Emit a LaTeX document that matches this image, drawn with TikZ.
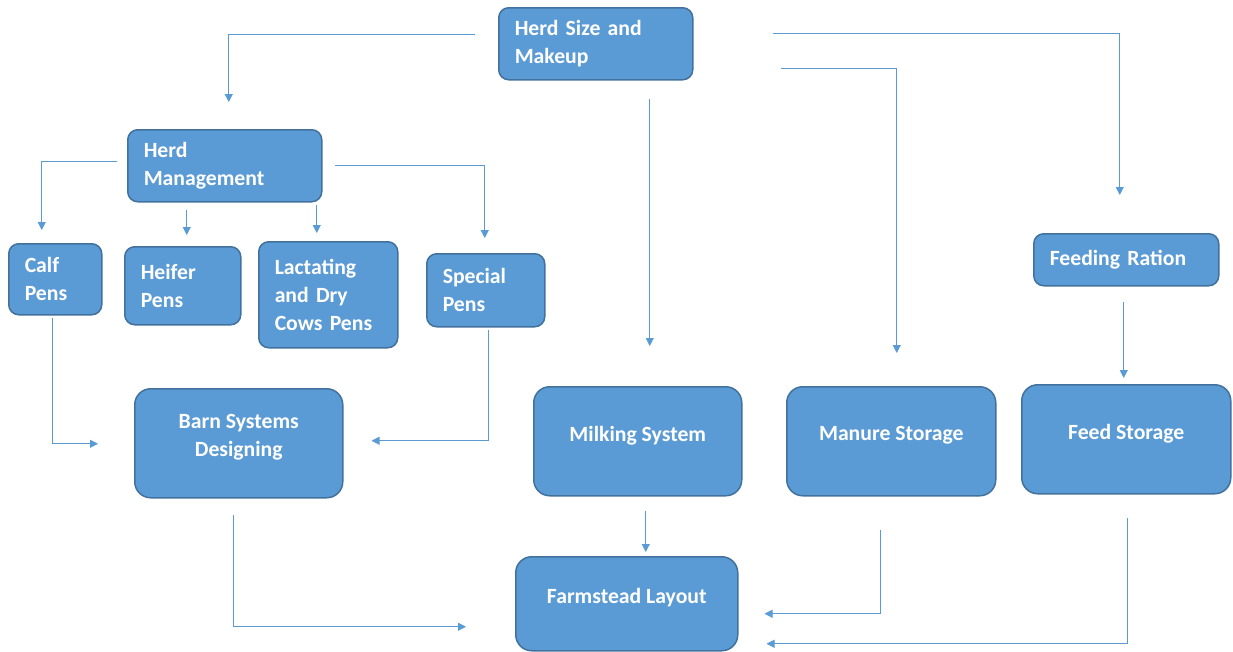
\documentclass[tikz,border=0pt]{standalone}
\usepackage{fontspec}
\setmainfont{Carlito}
\usepackage{xcolor}
\usepackage{tikz}
\usetikzlibrary{positioning, calc, arrows.meta}
\definecolor{boxblue}{HTML}{5B9BD5}
\definecolor{boxedge}{HTML}{41719C}

\begin{document}
\begin{tikzpicture}[x=1pt, y=-1pt,
	every node/.style={font=\bfseries\fontsize{21.7}{28}\selectfont, text=white},
	blk/.style={draw=boxedge, fill=boxblue, line width=1.5pt, rounded corners=10pt, anchor=north west, inner ysep=0pt},
	sbox/.style n args={3}{blk, minimum width=#1pt, minimum height=#2pt, text width=#3pt, inner xsep=16pt, align=left},
	bbox/.style n args={2}{blk, rounded corners=16pt, minimum width=#1pt, minimum height=#2pt, align=center,
		execute at end node={\rule[-15pt]{0pt}{0pt}}},
	link/.style={draw=boxblue, line width=1pt, -{Triangle[length=8pt,width=8pt]}}]
		\useasboundingbox (0,0) rectangle (1233,651);
		
		% top row
		\node[sbox={194}{72}{162}] (herd) at (498,7) {Herd Size and\\Makeup};
		\node[sbox={194}{72}{162}] (mgmt) at (127,129) {Herd\\Management};
		\node[sbox={185}{52}{153}] (ration) at (1033,233) {Feeding Ration};
		
		% pens
		\node[sbox={93}{71}{61}] (calf) at (8,243) {Calf\\Pens};
		\node[sbox={116}{78}{84}] (heifer) at (124,246) {Heifer\\Pens};
		\node[sbox={139}{106}{107}] (lact) at (258,241) {Lactating\\and Dry\\Cows Pens};
		\node[sbox={118}{73}{86}] (special) at (426,253) {Special\\Pens};
		
		% systems
		\node[bbox={208}{109}] (barn) at (134,388) {Barn Systems\\Designing};
		\node[bbox={208}{109}] (milk) at (533,386) {Milking System};
		\node[bbox={209}{109}] (manure) at (786,386) {Manure Storage};
		\node[bbox={209}{109}] (feed) at (1021,384) {Feed Storage};
		\node[bbox={222}{94}] (farm) at (515,556) {Farmstead Layout};
		
		% connectors
		\draw[link] ($(herd.west)+(-23,-9)$) -| ($(mgmt.north)+(4,-27)$);
		\draw[link] ($(herd.south)+(54,18)$) -- ($(milk.north)+(12,-40)$);
		\draw[link] ($(herd.east)+(87,25)$) -| ($(manure.north)+(5.5,-33)$);
		\draw[link] ($(herd.east)+(79,-10)$) -| ($(ration.north)+(-6.5,-38)$);
		
		\draw[link] ($(mgmt.west)+(-10,-4)$) -| ($(calf.north)+(-13.5,-13)$);
		\draw[link] ($(mgmt.south)+(-38,7)$) -- ($(heifer.north)+(4,-11)$);
		\draw[link] ($(mgmt.south)+(92,2)$) -- ($(lact.north)+(-11.5,-8)$);
		\draw[link] ($(mgmt.east)+(12,0)$) -| ($(special.north)+(-1,-15)$);
		
		\draw[link] ($(calf.south)+(-2.5,2)$) |- ($(barn.west)+(-36,0.5)$);
		\draw[link] ($(special.south)+(3,2)$) |- ($(barn.east)+(28,-2.5)$);
		\draw[link] ($(ration.south)+(-2.5,15)$) -- ($(feed.north)+(-2.5,-6)$);
		
		\draw[link] ($(barn.south)+(-5,16)$) |- ($(farm.west)+(-49,23)$);
		\draw[link] ($(milk.south)+(8,14)$) -- ($(farm.north)+(19,-4)$);
		\draw[link] ($(manure.south)+(-10.5,33)$) |- ($(farm.east)+(26,10)$);
		\draw[link] ($(feed.south)+(1.5,23)$) |- ($(farm.east)+(28,40)$);
\end{tikzpicture}
\end{document}
